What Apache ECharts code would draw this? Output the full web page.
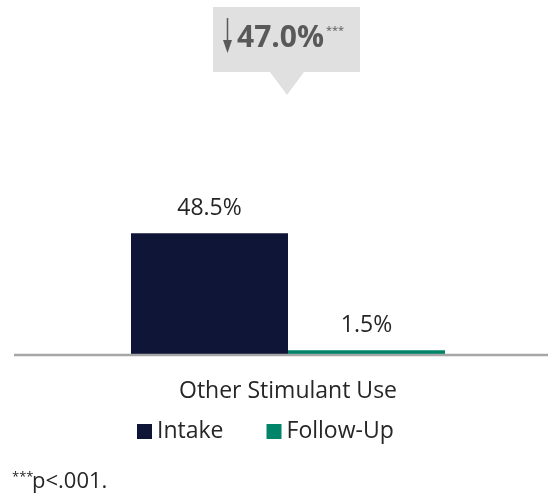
<!DOCTYPE html>
<html>
<head>
<meta charset="utf-8">
<script src="https://cdn.jsdelivr.net/npm/echarts@6/dist/echarts.min.js"></script>
<style>html,body{margin:0;padding:0;background:#fff;}#c{width:548px;height:497px;}</style>
</head>
<body>
<div id="c"></div>
<script>
const categories = ['Other Stimulant Use'];
const intakeValues = [48.5];
const followUpValues = [1.5];
const seriesNames = ['Intake', 'Follow-Up'];
const changeLabel = '47.0%';
const footnote = 'p<.001.';

const chart = echarts.init(document.getElementById('c'), null, {renderer: 'canvas'});
const FONT = '"Open Sans", "Noto Sans", sans-serif';
const TXT = '#262626';
const GREY = '#595959';

chart.setOption({
  animation: false,
  backgroundColor: '#fff',
  grid: {left: 28, right: 0, top: 105, bottom: 143, containLabel: false},
  xAxis: {
    type: 'category',
    data: categories,
    axisLine: {show: false},
    axisTick: {show: false},
    axisLabel: {color: TXT, fontFamily: FONT, fontSize: 23, margin: 26}
  },
  yAxis: {type: 'value', min: 0, max: 100, show: false, splitLine: {show: false}},
  legend: {
    data: seriesNames,
    top: 420,
    left: 137,
    padding: 0,
    itemWidth: 15, itemHeight: 15, itemGap: 43,
    icon: 'rect',
    textStyle: {color: TXT, fontFamily: FONT, fontSize: 23}
  },
  series: [
    {
      name: seriesNames[0], type: 'bar', data: intakeValues,
      barWidth: 157, barGap: '0%',
      itemStyle: {color: '#0f1537'},
      label: {show: true, position: 'top', distance: 13, formatter: p => p.value.toFixed(1) + '%',
              color: TXT, fontFamily: FONT, fontSize: 23}
    },
    {
      name: seriesNames[1], type: 'bar', data: followUpValues,
      barWidth: 157, barGap: '0%',
      itemStyle: {color: '#00856a'},
      label: {show: true, position: 'top', distance: 13, formatter: p => p.value.toFixed(1) + '%',
              color: TXT, fontFamily: FONT, fontSize: 23}
    }
  ],
  graphic: [
    {type: 'line', shape: {x1: 14, y1: 355, x2: 548, y2: 355}, style: {stroke: '#a6a6a6', lineWidth: 2.5}, z: 10},
    {type: 'rect', shape: {x: 213, y: 7, width: 147, height: 65}, style: {fill: '#e0e0e0'}},
    {type: 'polygon', shape: {points: [[270, 72], [304, 72], [287, 95]]}, style: {fill: '#e0e0e0'}},
    {type: 'line', shape: {x1: 227.5, y1: 18, x2: 227.5, y2: 44}, style: {stroke: GREY, lineWidth: 1.5}},
    {type: 'polygon', shape: {points: [[223, 40], [232, 40], [227.5, 53]]}, style: {fill: GREY}},
    {type: 'text', x: 237, y: 38, style: {text: changeLabel, fill: GREY, font: 'bold 30px ' + FONT, textVerticalAlign: 'middle'}},
    {type: 'text', x: 326, y: 31, style: {text: '***', fill: GREY, font: '11px ' + FONT, textVerticalAlign: 'middle'}},
    {type: 'text', x: 12, y: 477, style: {text: '***', fill: TXT, font: '13px ' + FONT, textVerticalAlign: 'middle'}},
    {type: 'text', x: 32, y: 482, style: {text: footnote, fill: TXT, font: '22px ' + FONT, textVerticalAlign: 'middle'}}
  ]
});
</script>
</body>
</html>
